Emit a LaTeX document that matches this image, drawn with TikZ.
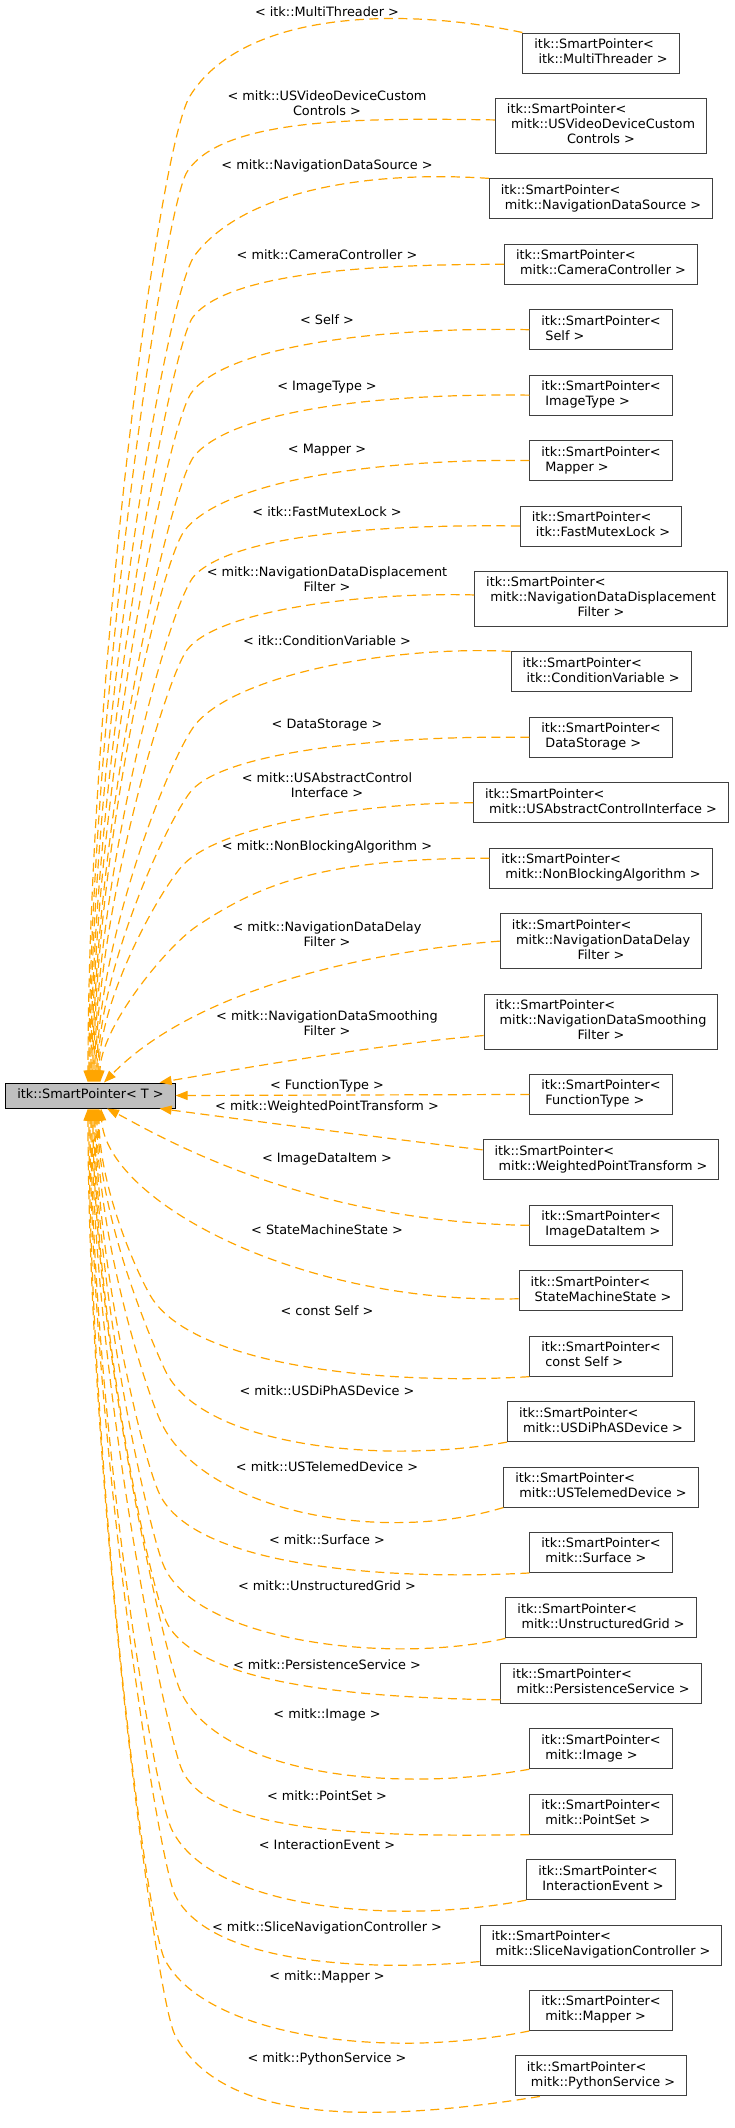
\documentclass[tikz,border=0pt]{standalone}
\usepackage{fontspec}
\setmainfont{DejaVu Sans}
\usetikzlibrary{positioning,arrows.meta}

\definecolor{edgeorange}{HTML}{FFA500}
\definecolor{rootgray}{HTML}{BFBFBF}
\definecolor{boxgray}{HTML}{404040}

\newcommand{\dotfont}{\fontsize{12.85}{15}\selectfont}
\newcommand{\smartptr}[1]{\begin{tabular}{@{}l@{}}itk::SmartPointer<\\#1\end{tabular}}
\newcommand{\ptrtail}[1]{\multicolumn{1}{@{}c@{}}{#1}}

\begin{document}
\begin{tikzpicture}[x=1pt,y=-1pt,node distance=24.43pt,
  ptrbox/.style={draw=boxgray,fill=white,line width=1pt,inner xsep=11.5pt,inner ysep=5pt,font=\dotfont},
  rootbox/.style={ptrbox,draw=black,fill=rootgray},
  tag/.style={font=\dotfont,align=center,inner sep=0pt},
  tmpl/.style={-{Triangle[length=12pt,width=9pt]},draw=edgeorange,line width=1.2pt,dash pattern=on 9pt off 5.5pt}]
    \useasboundingbox (0,0) rectangle (735,2128);

    %root
    \node[rootbox] (root) at (90.5,1095.5) {\begin{tabular}{@{}l@{}}itk::SmartPointer< T >\end{tabular}};

    %instances
    \node[ptrbox] (threader) at (601,53) {\smartptr{\ itk::MultiThreader >}};
    \node[ptrbox, below=of threader] (videoctrl) {\smartptr{\ mitk::USVideoDeviceCustom\\\ptrtail{Controls >}}};
    \node[ptrbox, below=of videoctrl] (navsource) {\smartptr{\ mitk::NavigationDataSource >}};
    \node[ptrbox, below=of navsource] (camera) {\smartptr{\ mitk::CameraController >}};
    \node[ptrbox, below=of camera] (self) {\smartptr{\ Self >}};
    \node[ptrbox, below=of self] (imagetype) {\smartptr{\ ImageType >}};
    \node[ptrbox, below=of imagetype] (mapper) {\smartptr{\ Mapper >}};
    \node[ptrbox, below=of mapper] (mutex) {\smartptr{\ itk::FastMutexLock >}};
    \node[ptrbox, below=of mutex] (displacement) {\smartptr{\ mitk::NavigationDataDisplacement\\\ptrtail{Filter >}}};
    \node[ptrbox, below=of displacement] (condvar) {\smartptr{\ itk::ConditionVariable >}};
    \node[ptrbox, below=of condvar] (storage) {\smartptr{\ DataStorage >}};
    \node[ptrbox, below=of storage] (ctrlif) {\smartptr{\ mitk::USAbstractControlInterface >}};
    \node[ptrbox, below=of ctrlif] (nonblocking) {\smartptr{\ mitk::NonBlockingAlgorithm >}};
    \node[ptrbox, below=of nonblocking] (delay) {\smartptr{\ mitk::NavigationDataDelay\\\ptrtail{Filter >}}};
    \node[ptrbox, below=of delay] (smoothing) {\smartptr{\ mitk::NavigationDataSmoothing\\\ptrtail{Filter >}}};
    \node[ptrbox, below=of smoothing] (functype) {\smartptr{\ FunctionType >}};
    \node[ptrbox, below=of functype] (weighted) {\smartptr{\ mitk::WeightedPointTransform >}};
    \node[ptrbox, below=of weighted] (dataitem) {\smartptr{\ ImageDataItem >}};
    \node[ptrbox, below=of dataitem] (statemachine) {\smartptr{\ StateMachineState >}};
    \node[ptrbox, below=of statemachine] (constself) {\smartptr{\ const Self >}};
    \node[ptrbox, below=of constself] (diphas) {\smartptr{\ mitk::USDiPhASDevice >}};
    \node[ptrbox, below=of diphas] (telemed) {\smartptr{\ mitk::USTelemedDevice >}};
    \node[ptrbox, below=of telemed] (surface) {\smartptr{\ mitk::Surface >}};
    \node[ptrbox, below=of surface] (ugrid) {\smartptr{\ mitk::UnstructuredGrid >}};
    \node[ptrbox, below=of ugrid] (persistence) {\smartptr{\ mitk::PersistenceService >}};
    \node[ptrbox, below=of persistence] (image) {\smartptr{\ mitk::Image >}};
    \node[ptrbox, below=of image] (pointset) {\smartptr{\ mitk::PointSet >}};
    \node[ptrbox, below=of pointset] (interaction) {\smartptr{\ InteractionEvent >}};
    \node[ptrbox, below=of interaction] (slicenav) {\smartptr{\ mitk::SliceNavigationController >}};
    \node[ptrbox, below=of slicenav] (mitkmapper) {\smartptr{\ mitk::Mapper >}};
    \node[ptrbox, below=of mitkmapper] (python) {\smartptr{\ mitk::PythonService >}};

    %template arguments
    \node[tag] (threader tag) at (327,11.5) {< itk::MultiThreader >};
    \node[tag] (videoctrl tag) at (327,103) {< mitk::USVideoDeviceCustom\\Controls >};
    \node[tag] (navsource tag) at (327,166) {< mitk::NavigationDataSource >};
    \node[tag] (camera tag) at (327,255) {< mitk::CameraController >};
    \node[tag] (self tag) at (327,320) {< Self >};
    \node[tag] (imagetype tag) at (327,387) {< ImageType >};
    \node[tag] (mapper tag) at (327,450) {< Mapper >};
    \node[tag] (mutex tag) at (327,512) {< itk::FastMutexLock >};
    \node[tag] (displacement tag) at (327,579) {< mitk::NavigationDataDisplacement\\Filter >};
    \node[tag] (condvar tag) at (327,641) {< itk::ConditionVariable >};
    \node[tag] (storage tag) at (327,725) {< DataStorage >};
    \node[tag] (ctrlif tag) at (327,785.5) {< mitk::USAbstractControl\\Interface >};
    \node[tag] (nonblocking tag) at (327,847) {< mitk::NonBlockingAlgorithm >};
    \node[tag] (delay tag) at (327,934) {< mitk::NavigationDataDelay\\Filter >};
    \node[tag] (smoothing tag) at (327,1023.5) {< mitk::NavigationDataSmoothing\\Filter >};
    \node[tag] (functype tag) at (327,1086) {< FunctionType >};
    \node[tag] (weighted tag) at (327,1107) {< mitk::WeightedPointTransform >};
    \node[tag] (dataitem tag) at (327,1159) {< ImageDataItem >};
    \node[tag] (statemachine tag) at (327,1230) {< StateMachineState >};
    \node[tag] (constself tag) at (327,1311) {< const Self >};
    \node[tag] (diphas tag) at (327,1390.5) {< mitk::USDiPhASDevice >};
    \node[tag] (telemed tag) at (327,1466.5) {< mitk::USTelemedDevice >};
    \node[tag] (surface tag) at (327,1539.5) {< mitk::Surface >};
    \node[tag] (ugrid tag) at (327,1585.5) {< mitk::UnstructuredGrid >};
    \node[tag] (persistence tag) at (327,1664.5) {< mitk::PersistenceService >};
    \node[tag] (image tag) at (327,1714.7) {< mitk::Image >};
    \node[tag] (pointset tag) at (327,1795.7) {< mitk::PointSet >};
    \node[tag] (interaction tag) at (327,1844.3) {< InteractionEvent >};
    \node[tag] (slicenav tag) at (327,1927.7) {< mitk::SliceNavigationController >};
    \node[tag] (mitkmapper tag) at (327,1976.7) {< mitk::Mapper >};
    \node[tag] (python tag) at (327,2058.7) {< mitk::PythonService >};

    %edges above the root
    \draw[tmpl] (threader.north west) .. controls +(-133,-28) and +(50,-81) .. (190,96) .. controls +(-32,51) and +(0,-395) .. ([xshift=-2.5pt]root.north);
    \draw[tmpl] ([yshift=6pt]videoctrl.west) .. controls +(-130,-2) and +(35,-55) .. (187,172) .. controls +(-23,36) and +(0,-364) .. ([xshift=-1.5pt]root.north);
    \draw[tmpl] (navsource.north west) .. controls +(-120,-8) and +(50,-65) .. (195,255) .. controls +(-30,39) and +(0,-331) .. ([xshift=-0.5pt]root.north);
    \draw[tmpl] (camera.west) .. controls +(-130,0) and +(35,-45) .. (193,317) .. controls +(-23,29) and +(0,-306) .. ([xshift=0.5pt]root.north);
    \draw[tmpl] (self.west) .. controls +(-140,-3) and +(38,-48) .. (192,392) .. controls +(-25,31) and +(0,-276) .. ([xshift=1.5pt]root.north);
    \draw[tmpl] (imagetype.west) .. controls +(-150,-2) and +(40,-45) .. (195,455) .. controls +(-26,29) and +(0,-251) .. ([xshift=2.5pt]root.north);
    \draw[tmpl] (mapper.west) .. controls +(-150,-2) and +(40,-50) .. (185,530) .. controls +(-26,32) and +(0,-220) .. ([xshift=3.5pt]root.north);
    \draw[tmpl] (mutex.west) .. controls +(-140,-2) and +(40,-40) .. (195,575) .. controls +(-26,26) and +(0,-203) .. ([xshift=4.5pt]root.north);
    \draw[tmpl] ([yshift=4pt]displacement.west) .. controls +(-110,-3) and +(30,-40) .. (187,650) .. controls +(-20,26) and +(0,-173) .. ([xshift=5.5pt]root.north);
    \draw[tmpl] (condvar.north west) .. controls +(-120,-6) and +(40,-50) .. (195,725) .. controls +(-24,30) and +(0,-143) .. ([xshift=6.5pt]root.north);
    \draw[tmpl] (storage.west) .. controls +(-150,-2) and +(35,-38) .. (192,790) .. controls +(-20,22) and +(0,-117) .. ([xshift=7.5pt]root.north);
    \draw[tmpl] (ctrlif.west) .. controls +(-110,0) and +(38,-40) .. (183,865) .. controls +(-20,21) and +(0,-87) .. ([xshift=8.5pt]root.north);
    \draw[tmpl] ([yshift=10pt]nonblocking.west) .. controls +(-170,0) and +(60,-40) .. (197,926) .. controls +(-30,20) and +(0,-55) .. ([xshift=9.5pt]root.north);
    \draw[tmpl] (delay.west) .. controls +(-150,12) and +(86,-88) .. ([xshift=13.5pt]root.north);
    \draw[tmpl] ([yshift=-14pt]smoothing.west) .. controls +(-100,8) and +(70,-12) .. ([xshift=-16pt]root.north east);

    %edge beside the root
    \draw[tmpl] (functype.west) -- (root.east);

    %edges below the root
    \draw[tmpl] ([yshift=10pt]weighted.west) .. controls +(-100,-12) and +(60,8) .. ([xshift=-16pt]root.south east);
    \draw[tmpl] (dataitem.west) .. controls +(-230,-3) and +(43,22) .. ([xshift=16.5pt]root.south);
    \draw[tmpl] ([yshift=-8pt]statemachine.west) .. controls +(-220,6) and +(5,92) .. ([xshift=10.5pt]root.south);
    \draw[tmpl] (constself.south west) .. controls +(-150,9) and +(40,70) .. (150,1295) .. controls +(-17,-30) and +(0,75) .. ([xshift=8.5pt]root.south);
    \draw[tmpl] (diphas.south west) .. controls +(-130,23) and +(35,75) .. (165,1370) .. controls +(-17,-36) and +(0,105) .. ([xshift=7.5pt]root.south);
    \draw[tmpl] (telemed.south west) .. controls +(-125,38) and +(40,90) .. (160,1420) .. controls +(-17,-38) and +(0,125) .. ([xshift=6.5pt]root.south);
    \draw[tmpl] (surface.south west) .. controls +(-150,8) and +(35,70) .. (160,1495) .. controls +(-17,-34) and +(0,155) .. ([xshift=5.5pt]root.south);
    \draw[tmpl] (ugrid.south west) .. controls +(-120,27) and +(30,76) .. (163,1564) .. controls +(-15,-38) and +(0,182) .. ([xshift=4.5pt]root.south);
    \draw[tmpl] ([yshift=4pt]persistence.south west) .. controls +(-140,-2) and +(35,60) .. (168,1625) .. controls +(-18,-31) and +(0,207) .. ([xshift=3.5pt]root.south);
    \draw[tmpl] (image.south west) .. controls +(-150,26) and +(35,80) .. (180,1690) .. controls +(-17,-40) and +(0,233) .. ([xshift=2.5pt]root.south);
    \draw[tmpl] (pointset.south west) .. controls +(-150,2) and +(30,65) .. (182,1770) .. controls +(-15,-32) and +(0,265) .. ([xshift=1.5pt]root.south);
    \draw[tmpl] (interaction.south west) .. controls +(-130,25) and +(40,80) .. (172,1830) .. controls +(-20,-40) and +(0,289) .. ([xshift=0.5pt]root.south);
    \draw[tmpl] ([yshift=4pt]slicenav.south west) .. controls +(-110,10) and +(35,70) .. (175,1895) .. controls +(-17,-35) and +(0,315) .. ([xshift=-0.5pt]root.south);
    \draw[tmpl] (mitkmapper.south west) .. controls +(-149,30) and +(40,75) .. (165,1960) .. controls +(-20,-37) and +(0,341) .. ([xshift=-1.5pt]root.south);
    \draw[tmpl] ([xshift=25pt]python.south west) .. controls +(-210,34) and +(40,75) .. (175,2035) .. controls +(-20,-37.5) and +(0,370) .. ([xshift=-2.5pt]root.south);

  \end{tikzpicture}
\end{document}
